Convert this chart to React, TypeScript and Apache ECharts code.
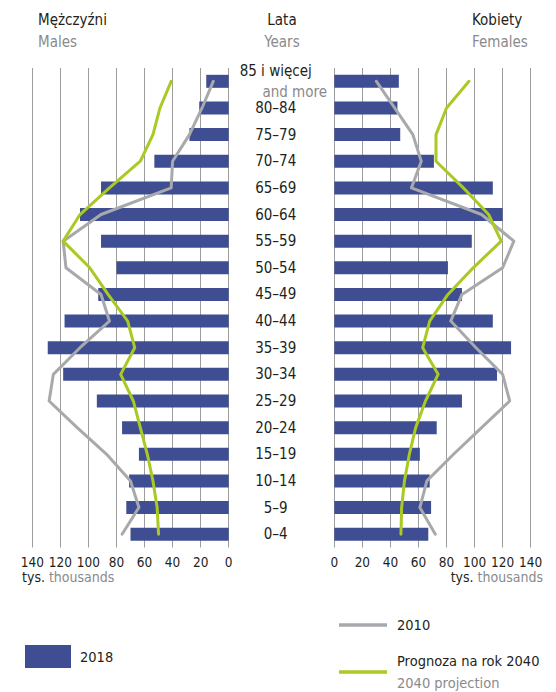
import React, { useEffect, useRef } from "react";
import * as echarts from "echarts";

const categories = [
  "0–4", "5–9", "10–14", "15–19", "20–24", "25–29", "30–34", "35–39", "40–44",
  "45–49", "50–54", "55–59", "60–64", "65–69", "70–74", "75–79", "80–84", "85 i więcej",
];
const males2018 = [70, 73, 71, 64, 76, 94, 118, 129, 117, 93, 80, 91, 106, 91, 53, 28, 21, 16];
const females2018 = [67, 69, 68, 61, 73, 91, 116, 126, 113, 91, 81, 98, 120, 113, 71, 47, 45, 46];
const males2010 = [76, 64, 70, 87, 108, 128, 125, 106, 85, 91, 116, 118, 91, 41, 40, 28, 19, 11];
const females2010 = [72, 61, 66, 85, 105, 125, 120, 101, 83, 91, 120, 128, 105, 55, 62, 56, 43, 30];
const males2040 = [50, 51, 54, 58, 63, 68, 77, 67, 72, 86, 99, 118, 106, 85, 63, 54, 49, 41];
const females2040 = [47.5, 48, 50, 53.5, 58, 65, 74, 63, 68, 81, 99, 119, 110, 92, 72.5, 72.5, 80, 96];
const xTicks = { min: 0, max: 140, interval: 20 };

const FONT = "'DejaVu Sans Condensed', 'Liberation Sans Narrow', sans-serif";
const BLACK = "#231f20";
const GRAY_TEXT = "#8a8a8c";
const BLUE = "#3f4e92";
const GRAY_LINE = "#a7a9ac";
const GREEN = "#a9c923";

const pairs = (vals: number[]) => vals.map((v, i) => [v, categories[i]]);

export default function App() {
  const ref = useRef<HTMLDivElement>(null);
  useEffect(() => {
    if (!ref.current) return;
    const chart = echarts.init(ref.current, undefined, { renderer: "svg" });
    const xAxisBase = {
      type: "value",
      min: xTicks.min,
      max: xTicks.max,
      interval: xTicks.interval,
      axisLine: { show: false },
      axisTick: { show: false },
      splitLine: { show: true, lineStyle: { color: "#9d9d9d", width: 1 } },
      axisLabel: { fontSize: 13.5, color: BLACK, margin: 7, fontFamily: FONT },
    };
    const lineBase = {
      type: "line",
      symbol: "none",
      lineStyle: { width: 3, join: "round", cap: "round" },
    };
    const txt = (text: string, x: number, y: number, fill: string, align = "left", size = 15) => ({
      type: "text",
      x,
      y,
      style: { text, fontSize: size, fontFamily: FONT, fill, textAlign: align, textVerticalAlign: "middle" },
    });
    const unit = (x: number, align: string) => ({
      type: "text",
      x,
      y: 577,
      style: {
        text: "{a|tys.} {b|thousands}",
        fontSize: 14,
        fontFamily: FONT,
        textAlign: align,
        textVerticalAlign: "middle",
        rich: {
          a: { fill: BLACK, fontSize: 14, fontFamily: FONT },
          b: { fill: GRAY_TEXT, fontSize: 14, fontFamily: FONT },
        },
      },
    });
    const option = {
      animation: false,
      textStyle: { fontFamily: FONT },
      grid: [
        { left: 32.3, top: 68, width: 196.4, height: 479.5 },
        { left: 334.3, top: 68, width: 196.4, height: 479.5 },
      ],
      xAxis: [
        { ...xAxisBase, gridIndex: 0, inverse: true },
        { ...xAxisBase, gridIndex: 1 },
      ],
      yAxis: [
        {
          type: "category",
          gridIndex: 0,
          data: categories,
          position: "right",
          axisLine: { show: false },
          axisTick: { show: false },
          splitLine: { show: false },
          axisLabel: {
            interval: 0,
            align: "center",
            margin: 47,
            fontSize: 15,
            color: BLACK,
            fontFamily: FONT,
            formatter: (v: string) =>
              v === "85 i więcej" ? "{a|85 i więcej}\n{b|and more}" : v,
            rich: {
              a: { fontSize: 15, color: BLACK, fontFamily: FONT, lineHeight: 21 },
              b: {
                fontSize: 15,
                color: GRAY_TEXT,
                fontFamily: FONT,
                lineHeight: 21,
                padding: [0, 0, 0, 38],
              },
            },
          },
        },
        {
          type: "category",
          gridIndex: 1,
          data: categories,
          axisLine: { show: false },
          axisTick: { show: false },
          splitLine: { show: false },
          axisLabel: { show: false },
        },
      ],
      series: [
        {
          name: "2018 M",
          type: "bar",
          xAxisIndex: 0,
          yAxisIndex: 0,
          barWidth: 13,
          itemStyle: { color: BLUE },
          data: pairs(males2018),
        },
        {
          name: "2018 K",
          type: "bar",
          xAxisIndex: 1,
          yAxisIndex: 1,
          barWidth: 13,
          itemStyle: { color: BLUE },
          data: pairs(females2018),
        },
        {
          ...lineBase,
          name: "2010 M",
          xAxisIndex: 0,
          yAxisIndex: 0,
          lineStyle: { ...lineBase.lineStyle, color: GRAY_LINE },
          data: pairs(males2010),
        },
        {
          ...lineBase,
          name: "2010 K",
          xAxisIndex: 1,
          yAxisIndex: 1,
          lineStyle: { ...lineBase.lineStyle, color: GRAY_LINE },
          data: pairs(females2010),
        },
        {
          ...lineBase,
          name: "2040 M",
          xAxisIndex: 0,
          yAxisIndex: 0,
          lineStyle: { ...lineBase.lineStyle, color: GREEN },
          data: pairs(males2040),
        },
        {
          ...lineBase,
          name: "2040 K",
          xAxisIndex: 1,
          yAxisIndex: 1,
          lineStyle: { ...lineBase.lineStyle, color: GREEN },
          data: pairs(females2040),
        },
      ],
      graphic: [
        txt("Mężczyźni", 38, 20, BLACK),
        txt("Males", 38, 41.5, GRAY_TEXT),
        txt("Lata", 282, 20, BLACK, "center"),
        txt("Years", 282, 41.5, GRAY_TEXT, "center"),
        txt("Kobiety", 472, 20, BLACK),
        txt("Females", 472, 41.5, GRAY_TEXT),
        unit(22, "left"),
        unit(543, "right"),
        { type: "line", shape: { x1: 339, y1: 625, x2: 387, y2: 625 }, style: { stroke: GRAY_LINE, lineWidth: 3.5 } },
        txt("2010", 397, 625, BLACK, "left", 14.5),
        { type: "line", shape: { x1: 339, y1: 672, x2: 387, y2: 672 }, style: { stroke: GREEN, lineWidth: 3.5 } },
        txt("Prognoza na rok 2040", 397, 661, BLACK, "left", 14.5),
        txt("2040 projection", 397, 683, GRAY_TEXT, "left", 14.5),
        { type: "rect", shape: { x: 25, y: 645, width: 46, height: 23 }, style: { fill: BLUE } },
        txt("2018", 80, 657, BLACK, "left", 14.5),
      ],
    };
    chart.setOption(option as any);
    return () => chart.dispose();
  }, []);
  return (
    <div
      ref={ref}
      style={{ position: "absolute", left: 0, top: 0, width: 556, height: 692 }}
    />
  );
}
